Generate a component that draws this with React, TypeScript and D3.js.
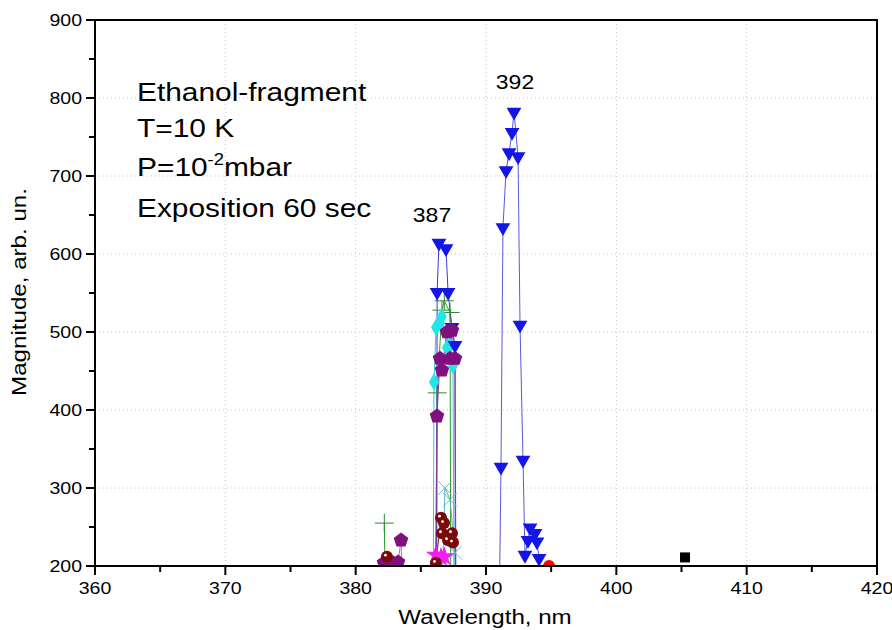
import React from 'react';
import * as d3 from 'd3';

// Spectrum points, [wavelength nm, magnitude]; values below 200 run off the axis
const blueLeft = [[386.2, 120], [386.25, 551], [386.39, 614], [386.93, 607], [387.09, 551], [387.39, 506], [387.62, 483], [387.65, 120]];
const blueRight = [[391.0, 120], [391.15, 327], [391.3, 634], [391.54, 707], [391.77, 730], [392.0, 756], [392.15, 782], [392.46, 725], [392.61, 509], [392.84, 336], [392.99, 214], [393.22, 233], [393.38, 249], [393.76, 242], [393.91, 231], [394.07, 210]];
const cyanPts = [[385.95, 150], [386.01, 436], [386.17, 506], [386.47, 512], [386.6, 520], [387.01, 480], [387.24, 483], [387.47, 457], [387.55, 150]];
const purplePeak = [[386.1, 150], [386.24, 392], [386.47, 466], [386.62, 451], [387.01, 500], [387.24, 466], [387.39, 502], [387.62, 466], [387.7, 150]];
const purpleLow = [[382.1, 190], [382.17, 204], [382.86, 204], [383.25, 205], [383.48, 233], [383.55, 190]];
const darkRedPts = [[386.16, 204], [386.55, 262], [386.62, 242], [386.78, 255], [387.09, 233], [387.39, 242], [387.47, 230]];
const darkRedLow = [[382.4, 212]];
const magentaPts = [[386.16, 214], [386.55, 211], [386.8, 212]];
const greenPeak = [[386.2, 150], [386.25, 422], [386.62, 528], [386.8, 540], [387.24, 525], [387.3, 150]];
const greenLow = [[382.2, 255], [382.25, 190]];
const tealPts = [[386.6, 150], [386.85, 300], [387.24, 285], [387.62, 217], [387.7, 150]];
const redPts = [[394.84, 200]];
const blackPts = [[405.27, 211]];

const xTicks = [360, 370, 380, 390, 400, 410, 420];
const yTicks = [200, 300, 400, 500, 600, 700, 800, 900];
const notes = ['Ethanol-fragment', 'T=10 K', 'P=10', 'Exposition 60 sec'];

const W = 892, H = 630;
const L = 95, R = 877, T = 20, B = 566;
const SX = 1.15;
const FONT = '"Liberation Sans", Arial, sans-serif';

const pentagon = {
  draw(ctx: any, size: number) {
    const r = Math.sqrt(size / 2.378);
    for (let i = 0; i < 5; i++) {
      const a = -Math.PI / 2 + (i * 2 * Math.PI) / 5;
      const px = r * Math.cos(a), py = r * Math.sin(a);
      if (i === 0) ctx.moveTo(px, py); else ctx.lineTo(px, py);
    }
    ctx.closePath();
  },
};

const Txt = ({ x, y, size, anchor = 'start', rotate = 0, children }: any) => (
  <g transform={`translate(${x},${y}) rotate(${rotate}) scale(${SX},1)`}>
    <text fontSize={size} textAnchor={anchor} fontFamily={FONT} fill="#000">{children}</text>
  </g>
);

export default function App() {
  const x = d3.scaleLinear().domain([360, 420]).range([L, R]);
  const y = d3.scaleLinear().domain([200, 900]).range([B, T]);
  const line = d3.line<number[]>().x(d => x(d[0])).y(d => y(d[1]));

  const tri = d3.symbol().type(d3.symbolTriangle).size(95)();
  const pent = d3.symbol().type(pentagon as any).size(140)();
  const diam = d3.symbol().type(d3.symbolDiamond).size(90)();
  const star = d3.symbol().type(d3.symbolStar).size(130)();
  const plus = d3.symbol().type(d3.symbolPlus).size(120)();
  const times = d3.symbol().type(d3.symbolTimes).size(120)();

  const redDot = (k: string) => (
    <g key={k}><circle r={6} fill="#7a0a0a" /><circle cx={-1.5} cy={-1.5} r={1.4} fill="#fff" /></g>);

  const series = [
    { pts: greenPeak, line: '#2e9a2e', mark: (k: string) => <path key={k} d={plus} fill="none" stroke="#2e8b2e" strokeWidth={1} /> },
    { pts: greenLow, line: '#2e9a2e', mark: (k: string) => <path key={k} d={plus} fill="none" stroke="#2e8b2e" strokeWidth={1} /> },
    { pts: tealPts, line: '#5ab4b4', mark: (k: string) => <path key={k} d={times} fill="none" stroke="#6cbcbc" strokeWidth={1} /> },
    { pts: cyanPts, line: '#30c8d0', mark: (k: string) => <path key={k} d={diam} fill="#22e6e6" /> },
    { pts: blueLeft, line: '#3a3ad0', mark: (k: string) => <path key={k} d={tri} transform="rotate(180)" fill="#1515e8" /> },
    { pts: purplePeak, line: '#8a3a9a', mark: (k: string) => <path key={k} d={pent} fill="#80107e" /> },
    { pts: purpleLow, line: '#a070c0', mark: (k: string) => <path key={k} d={pent} fill="#80107e" /> },
    { pts: magentaPts, line: '#e040e0', mark: (k: string) => <path key={k} d={star} fill="#f020f0" /> },
    { pts: darkRedPts, line: '#8a2020', mark: redDot },
    { pts: darkRedLow, line: 'none', mark: redDot },
    { pts: blueRight, line: '#5a5ad8', mark: (k: string) => <path key={k} d={tri} transform="rotate(180)" fill="#1515e8" /> },
    { pts: redPts, line: 'none', mark: (k: string) => <circle key={k} r={6} fill="#ff0000" /> },
    { pts: blackPts, line: 'none', mark: (k: string) => <rect key={k} x={-5} y={-5} width={10} height={10} fill="#000" /> },
  ];

  const xMinor = d3.range(365, 420, 10);
  const yMinor = d3.range(250, 900, 100);

  return (
    <svg width={W} height={H} style={{ position: 'absolute', left: 0, top: 0, background: '#fff' }}>
      <defs>
        <clipPath id="plot"><rect x={L} y={T} width={R - L} height={B - T} /></clipPath>
      </defs>
      {/* grid */}
      <g stroke="#c4c4c4" strokeWidth={1} strokeDasharray="1,3">
        {xTicks.slice(1, -1).map(t => <line key={t} x1={x(t)} x2={x(t)} y1={T} y2={B} />)}
        {yTicks.slice(1, -1).map(t => <line key={t} x1={L} x2={R} y1={y(t)} y2={y(t)} />)}
      </g>
      {/* series */}
      <g clipPath="url(#plot)">
        {series.map((s, i) => s.line !== 'none' && s.pts.length > 1 &&
          <path key={i} d={line(s.pts) as string} fill="none" stroke={s.line} strokeWidth={1} />)}
        {series.map((s, i) => s.pts.filter(p => p[1] >= 195).map((p, j) => (
          <g key={`${i}-${j}`} transform={`translate(${x(p[0])},${y(p[1])})`}>{s.mark(`m${i}-${j}`)}</g>
        )))}
      </g>
      {/* frame */}
      <rect x={L} y={T} width={R - L} height={B - T} fill="none" stroke="#000" strokeWidth={2} />
      {/* ticks */}
      <g stroke="#000" strokeWidth={2}>
        {xTicks.map(t => <line key={t} x1={x(t)} x2={x(t)} y1={B} y2={B + 9} />)}
        {xMinor.map(t => <line key={t} x1={x(t)} x2={x(t)} y1={B} y2={B + 6} />)}
        {yTicks.map(t => <line key={t} x1={L} x2={L - 9} y1={y(t)} y2={y(t)} />)}
        {yMinor.map(t => <line key={t} x1={L} x2={L - 6} y1={y(t)} y2={y(t)} />)}
      </g>
      {xTicks.map(t => <Txt key={t} x={x(t)} y={594} size={17} anchor="middle">{t}</Txt>)}
      {yTicks.map(t => <Txt key={t} x={L - 13} y={y(t) + 6} size={17} anchor="end">{t}</Txt>)}
      <Txt x={26} y={292} size={21} anchor="middle" rotate={-90}>Magnitude, arb. un.</Txt>
      <Txt x={485} y={624} size={21} anchor="middle">Wavelength, nm</Txt>
      {/* annotations */}
      <Txt x={137} y={101} size={26}>{notes[0]}</Txt>
      <Txt x={137} y={137} size={26}>{notes[1]}</Txt>
      <Txt x={137} y={176} size={26}>
        {notes[2]}<tspan fontSize={16} dy={-11}>-2</tspan><tspan dy={11}>mbar</tspan>
      </Txt>
      <Txt x={137} y={217} size={26}>{notes[3]}</Txt>
      <Txt x={432} y={222} size={20} anchor="middle">387</Txt>
      <Txt x={515} y={89} size={20} anchor="middle">392</Txt>
    </svg>
  );
}
